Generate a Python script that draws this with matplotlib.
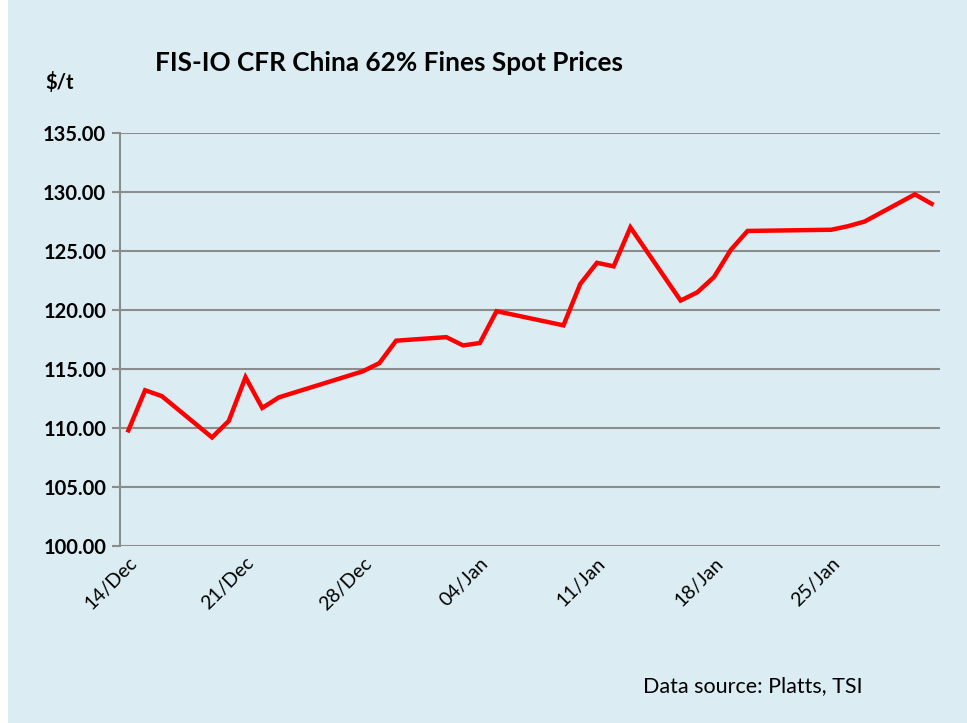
import matplotlib
matplotlib.use("Agg")
from matplotlib import pyplot as plt
import matplotlib.dates as mdates
import matplotlib.patches as mpatches
import numpy as np
import datetime as dt

# Spot price series (business days)
dates = ["2016-12-14", "2016-12-15", "2016-12-16", "2016-12-19", "2016-12-20",
         "2016-12-21", "2016-12-22", "2016-12-23", "2016-12-28", "2016-12-29",
         "2016-12-30", "2017-01-02", "2017-01-03", "2017-01-04", "2017-01-05",
         "2017-01-09", "2017-01-10", "2017-01-11", "2017-01-12", "2017-01-13",
         "2017-01-16", "2017-01-17", "2017-01-18", "2017-01-19", "2017-01-20",
         "2017-01-25", "2017-01-26", "2017-01-27", "2017-01-30", "2017-01-31"]
prices = [109.8, 113.2, 112.7, 109.2, 110.6,
          114.3, 111.7, 112.6, 114.8, 115.5,
          117.4, 117.7, 117.0, 117.2, 119.9,
          118.7, 122.2, 124.0, 123.7, 127.0,
          120.8, 121.5, 122.8, 125.1, 126.7,
          126.8, 127.1, 127.5, 129.8, 129.0]
tick_dates = ["2016-12-14", "2016-12-21", "2016-12-28", "2017-01-04",
              "2017-01-11", "2017-01-18", "2017-01-25"]

bg = "#dbedf3"
plt.rcParams["font.family"] = ["Lato", "DejaVu Sans"]

fig = plt.figure(figsize=(9.67, 7.23), dpi=100, facecolor="white")
fig.patches.append(mpatches.Rectangle((8 / 967, 0), 1, 1, transform=fig.transFigure,
                                      facecolor=bg, edgecolor="none", zorder=-10))
ax = fig.add_axes([120 / 967, 1 - 546 / 723, 820 / 967, 413 / 723])
ax.set_facecolor(bg)

x = [dt.datetime.strptime(d, "%Y-%m-%d") for d in dates]
ax.plot(x, prices, color="#ff0000", lw=3.2, solid_joinstyle="miter", zorder=3)

half = dt.timedelta(hours=12)
ax.set_xlim(x[0] - half, x[-1] + half)
ax.set_ylim(100, 135)
ax.set_yticks(np.arange(100, 136, 5))
ax.yaxis.set_major_formatter(matplotlib.ticker.FormatStrFormatter("%.2f"))
ax.grid(axis="y", color="#8c8c8c", lw=1.5)
ax.set_axisbelow(True)

ticks = [dt.datetime.strptime(d, "%Y-%m-%d") for d in tick_dates]
ax.set_xticks(ticks)
ax.xaxis.set_major_formatter(mdates.DateFormatter("%d/%b"))

for s in ["top", "right", "bottom"]:
    ax.spines[s].set_visible(False)
ax.spines["left"].set_color("#8c8c8c")
ax.spines["left"].set_linewidth(1.5)

ax.tick_params(axis="y", length=6, width=1.5, color="#8c8c8c", pad=4,
               labelsize=14.5, labelcolor="black")
for lab in ax.get_yticklabels():
    lab.set_fontweight("bold")
ax.tick_params(axis="x", length=0, pad=6, labelsize=14)
plt.setp(ax.get_xticklabels(), rotation=45, ha="right", rotation_mode="anchor")

fig.text(155 / 967, 1 - 63 / 723, "FIS-IO CFR China 62% Fines Spot Prices",
         fontsize=18.8, fontweight="bold", va="center", ha="left")
fig.text(45 / 967, 1 - 83 / 723, "$/t", fontsize=14.5, fontweight="bold",
         va="center", ha="left")
fig.text(643 / 967, 1 - 686 / 723, "Data source: Platts, TSI", fontsize=15.5,
         va="center", ha="left")

fig.savefig("out.png", dpi=100, facecolor=fig.get_facecolor())
